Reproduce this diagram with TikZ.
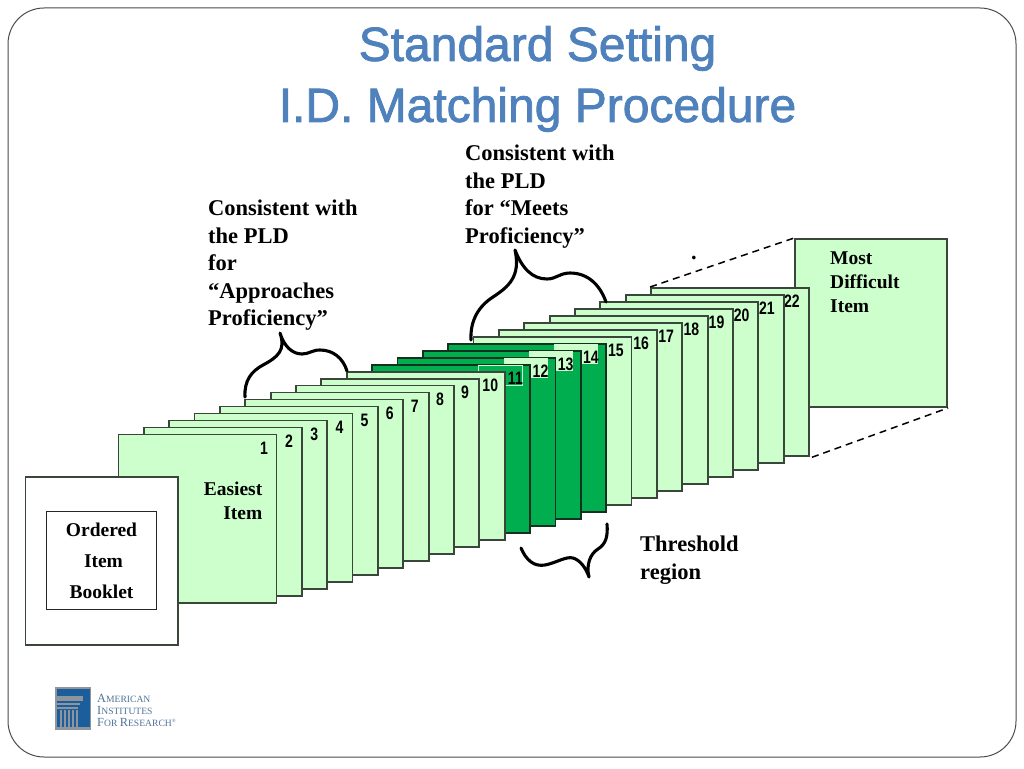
\documentclass[tikz,border=0pt]{standalone}
\usepackage{fontspec}
\setmainfont{Liberation Serif}
\newfontfamily\titlefont[FakeBold=1.6]{Liberation Sans}
\newfontfamily\numfont[FakeStretch=0.78]{Liberation Sans}
\definecolor{pagelight}{HTML}{CCFFCC}
\definecolor{pagedark}{HTML}{00AE4F}
\definecolor{pageline}{HTML}{3A463A}
\definecolor{darkline}{HTML}{16301F}
\definecolor{titleblue}{HTML}{4F81BD}
\definecolor{logoblue}{HTML}{1C5E9C}
\definecolor{logogray}{HTML}{8E959C}
\definecolor{logotext}{HTML}{4F7396}
\newcommand{\logocap}[2]{{\fontsize{12.4}{14}\selectfont #1}{\fontsize{9.6}{14}\selectfont #2}}
\tikzset{
	pagebox/.style = {draw = pageline, line width = 1.8pt, fill = pagelight, minimum width = 158pt, minimum height = 168.5pt, inner sep = 0pt},
	darkbox/.style = {pagebox, draw = darkline, fill = pagedark},
	hilite/.style = {fill = pagelight, minimum width = 44pt, minimum height = 20pt, inner sep = 0pt},
	numlabel/.style = {font = \numfont\bfseries\fontsize{18}{18}\selectfont, inner sep = 0pt},
	boldtext/.style = {font = \bfseries\fontsize{22.5}{27.4}\selectfont, align = left, inner sep = 0pt},
	itemtext/.style = {font = \bfseries\fontsize{19.5}{24}\selectfont, inner sep = 0pt},
	bracket/.style = {line width = 3.1pt, line cap = round, line join = round},
}
\begin{document}
\begin{tikzpicture}[x = 1pt, y = -1pt]
	\useasboundingbox (0,0) rectangle (1024,768);
	\fill [white] (0,0) rectangle (1024,768);
	\draw [black!70, line width = 1pt, rounded corners = 36pt] (8,8) rectangle (1016,757);
	\node (title) [text = titleblue, align = center, inner sep = 0pt, font = \titlefont\fontsize{48}{61}\selectfont] at (537.5,79) {Standard Setting\\I.D. Matching Procedure};
	% the far page behind the stack
	\node (bigpage) [pagebox, minimum width = 152.5pt, minimum height = 168pt] at (871,323) {};
	\node (mosttext) [itemtext, align = left, anchor = north west] at (830,252) {Most\\Difficult\\Item};
	\node (dot) [boldtext] at (694,258) {.};
	% stack of pages, back to front
	\foreach \i in {22,...,1} {
		\pgfmathsetmacro{\px}{197.5 + 25.36*(\i-1)}
		\pgfmathsetmacro{\py}{518.7 - 6.98*(\i-1)}
		\pgfmathsetmacro{\nx}{264 + 25.14*(\i-1)}
		\pgfmathsetmacro{\ny}{448 - 7*(\i-1)}
		\ifnum\i>10 \ifnum\i<15
			\node (page\i) [darkbox] at (\px,\py) {};
			\ifnum\i=11
				\node (mark\i) [hilite, fill = pagedark, draw = pagelight, line width = 0.8pt, anchor = north east] at ([shift = {(-8.5,1.5)}]page\i.north east) {};
			\else
				\node (mark\i) [hilite, anchor = north east] at ([shift = {(-8.5,1)}]page\i.north east) {};
			\fi
		\else
			\node (page\i) [pagebox] at (\px,\py) {};
		\fi \else
			\node (page\i) [pagebox] at (\px,\py) {};
		\fi
		\node (num\i) [numlabel] at (\nx,\ny) {\i};
	}
	\draw [black, line width = 1.5pt, dash pattern = on 7pt off 5pt] (page22.north west) -- (bigpage.north west);
	\draw [black, line width = 1.5pt, dash pattern = on 7pt off 5pt] ([xshift = 2pt]page22.south east) -- (bigpage.south east);
	\node (easytext) [itemtext, align = right, anchor = north east] at (262.5,482) {Easiest\\Item};
	% booklet in front
	\node (booklet) [draw = pageline, line width = 1.8pt, fill = white, minimum width = 152.5pt, minimum height = 168pt] at (101.7,561) {};
	\node (bookletin) [draw = black!85, line width = 1.4pt, minimum width = 110pt, minimum height = 97.5pt] at (101.7,560.5) {};
	\node (booktext) [itemtext, align = center, font = \bfseries\fontsize{19.5}{31}\selectfont] at (101.5,561) {Ordered\\\hspace{4pt}Item\\Booklet};
	% braces
	\draw [bracket] (245,397) .. controls (244,380) and (252,371) .. (263,365) .. controls (278,357) and (286,350) .. (280,333)
		.. controls (284,346) and (292,354) .. (302,354) .. controls (309,354) and (312,350) .. (320,350) .. controls (333,350) and (343,358) .. (347,371);
	\draw [bracket] (471,340) .. controls (470,320) and (479,306) .. (493,297) .. controls (508,287) and (521,277) .. (515,250)
		.. controls (522,268) and (532,279) .. (547,279) .. controls (556,279) and (560,273) .. (570,273) .. controls (588,273) and (600,285) .. (606,302);
	\draw [bracket] (521,548) .. controls (526,560) and (534,567) .. (545,565) .. controls (556,563) and (566,556) .. (573,558) .. controls (580,560) and (586,568) .. (589,577)
		.. controls (586,565) and (590,554) .. (598,549) .. controls (606,544) and (608,536) .. (607,524);
	\node (approach) [boldtext, anchor = north west] at (208,200) {Consistent with\\the PLD\\for\\“Approaches\\Proficiency”};
	\node (meets) [boldtext, anchor = north west] at (465,145) {Consistent with\\the PLD\\for “Meets\\Proficiency”};
	\node (thresh) [boldtext, anchor = north west] at (640,536) {Threshold\\region};
	% logo
	\fill [logogray] (55,687) rectangle (90.5,729.5);
	\fill [logoblue] (57,688.5) rectangle (90,727);
	\fill [logogray] (57,696) rectangle (83,701);
	\fill [logogray] (57,703) rectangle (80,705);
	\fill [logogray] (57,707) rectangle (78,709);
	\foreach \c in {60,64,68,72,76} {
		\fill [logogray] (\c,710) rectangle (\c+1.6,729);
	}
	\node (logotext) [text = logotext, align = left, inner sep = 0pt, anchor = west] at (97,710) {\baselineskip=14pt\logocap{A}{MERICAN}\\\logocap{I}{NSTITUTES}\\\logocap{F}{OR }\logocap{R}{ESEARCH}\textsuperscript{\tiny ®}};
\end{tikzpicture}
\end{document}
